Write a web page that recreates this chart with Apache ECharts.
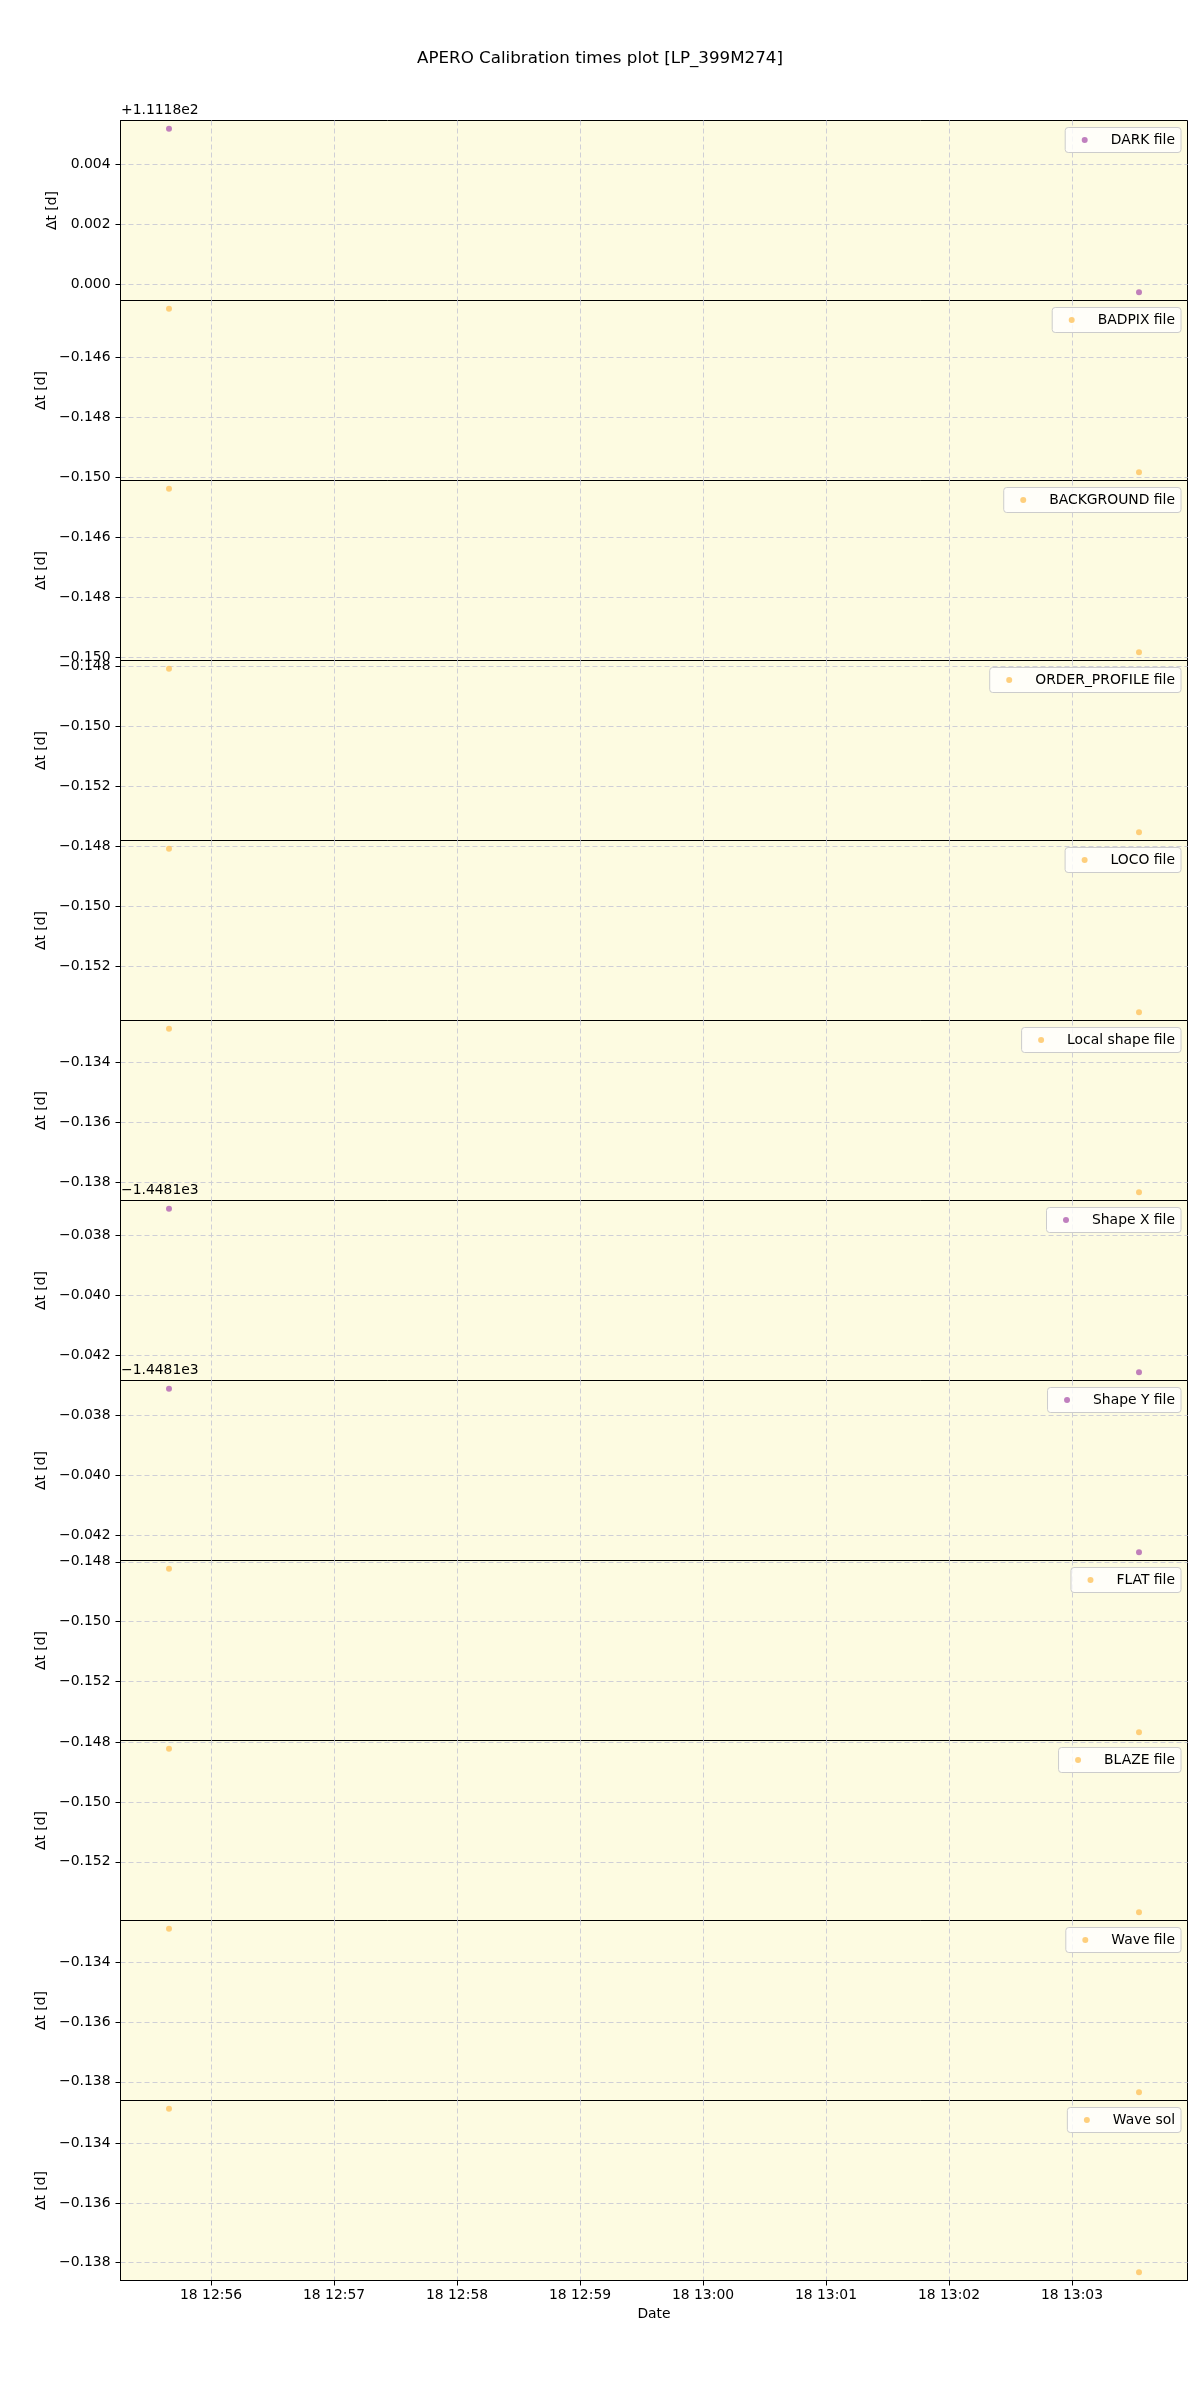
<!DOCTYPE html>
<html>
<head>
<meta charset="utf-8">
<script src="https://cdn.jsdelivr.net/npm/echarts@6/dist/echarts.min.js"></script>
<style>
html,body{margin:0;padding:0;background:#fff;}
#chart{width:1200px;height:2400px;}
</style>
</head>
<body>
<div id="chart"></div>
<script>
// ---- data ----
const titleText = 'APERO Calibration times plot [LP_399M274]';
const seriesNames = ['DARK file','BADPIX file','BACKGROUND file','ORDER_PROFILE file','LOCO file','Local shape file','Shape X file','Shape Y file','FLAT file','BLAZE file','Wave file','Wave sol'];
const seriesColors = ['#b060b0','#fec35e','#fec35e','#fec35e','#fec35e','#fec35e','#b060b0','#b060b0','#fec35e','#fec35e','#fec35e','#fec35e'];
const obsTimes = [Date.UTC(2023,7,18,12,55,39,500), Date.UTC(2023,7,18,13,3,32,700)];
const darkVals = [111.1852, 111.17973];
const badpixVals = [-0.14437, -0.14984];
const backgroundVals = [-0.14436, -0.14983];
const orderProfileVals = [-0.14807, -0.15354];
const locoVals = [-0.14807, -0.15354];
const localShapeVals = [-0.13287, -0.13834];
const shapeXVals = [-1448.13711, -1448.14258];
const shapeYVals = [-1448.1371, -1448.14257];
const flatVals = [-0.14823, -0.1537];
const blazeVals = [-0.14822, -0.15369];
const waveFileVals = [-0.13288, -0.13835];
const waveSolVals = [-0.13285, -0.13832];
const allVals = [darkVals, badpixVals, backgroundVals, orderProfileVals, locoVals, localShapeVals, shapeXVals, shapeYVals, flatVals, blazeVals, waveFileVals, waveSolVals];
const yOffsets = [111.18, 0, 0, 0, 0, 0, -1448.1, -1448.1, 0, 0, 0, 0];
const offsetLabels = ['+1.1118e2', '', '', '', '', '', '\u22121.4481e3', '\u22121.4481e3', '', '', '', ''];
const yTicks = [
  [0, 0.002, 0.004],
  [-0.150, -0.148, -0.146],
  [-0.150, -0.148, -0.146],
  [-0.152, -0.150, -0.148],
  [-0.152, -0.150, -0.148],
  [-0.138, -0.136, -0.134],
  [-0.042, -0.040, -0.038],
  [-0.042, -0.040, -0.038],
  [-0.152, -0.150, -0.148],
  [-0.152, -0.150, -0.148],
  [-0.138, -0.136, -0.134],
  [-0.138, -0.136, -0.134]
];
const xTicks = [
  Date.UTC(2023,7,18,12,56), Date.UTC(2023,7,18,12,57), Date.UTC(2023,7,18,12,58), Date.UTC(2023,7,18,12,59),
  Date.UTC(2023,7,18,13,0), Date.UTC(2023,7,18,13,1), Date.UTC(2023,7,18,13,2), Date.UTC(2023,7,18,13,3)
];
const yAxisName = '\u0394t [d]';
const xAxisName = 'Date';

// ---- layout ----
const FONT = 'DejaVu Sans';
const FS = 13.9;
const LEFT = 120.5, GW = 1067, TOP0 = 120.5, PH = 180;
const N = seriesNames.length;
const gridDash = [5, 3];
const gridColor = '#cfcfd6';

function pad2(n){ return (n < 10 ? '0' : '') + n; }
function fmtDate(v){
  const d = new Date(v);
  return d.getUTCDate() + ' ' + pad2(d.getUTCHours()) + ':' + pad2(d.getUTCMinutes());
}
function fmtNum(v){
  let s = v.toFixed(3);
  if (s === '-0.000') s = '0.000';
  return s.replace('-', '\u2212');
}
const tMin = Math.min(...obsTimes), tMax = Math.max(...obsTimes);
const tPad = (tMax - tMin) * 0.05;

const grids = [], xAxes = [], yAxes = [], series = [], legends = [], graphics = [];
for (let i = 0; i < N; i++) {
  const top = TOP0 + PH * i;
  const vals = allVals[i];
  const off = yOffsets[i];
  const lo = Math.min(...vals), hi = Math.max(...vals);
  const yp = (hi - lo) * 0.05;
  const isLast = i === N - 1;
  grids.push({
    left: LEFT, width: GW, top: top, height: PH,
    show: true, backgroundColor: '#fdfbe1', borderColor: '#000', borderWidth: 1
  });
  xAxes.push({
    type: 'value', gridIndex: i, min: tMin - tPad, max: tMax + tPad, scale: true,
    axisLine: { show: isLast, lineStyle: { color: '#000', width: 1 } },
    axisTick: { show: isLast, length: 5, lineStyle: { color: '#000' }, customValues: xTicks },
    axisLabel: { show: isLast, customValues: xTicks, formatter: (v) => fmtDate(v), fontFamily: FONT, fontSize: FS, color: '#000', margin: 8 },
    splitLine: { show: true, lineStyle: { color: gridColor, type: gridDash, width: 1 } },
    name: isLast ? xAxisName : '', nameLocation: 'middle', nameGap: 27,
    nameTextStyle: { fontFamily: FONT, fontSize: FS, color: '#000' }
  });
  const yt = yTicks[i].map(t => off + t);
  yAxes.push({
    type: 'value', gridIndex: i, min: lo - yp, max: hi + yp, scale: true,
    axisLine: { show: true, lineStyle: { color: '#000', width: 1 } },
    axisTick: { show: true, length: 5, lineStyle: { color: '#000' }, customValues: yt },
    axisLabel: { customValues: yt, formatter: (v) => fmtNum(v - off), fontFamily: FONT, fontSize: FS, color: '#000', margin: 10 },
    splitLine: { show: true, lineStyle: { color: gridColor, type: gridDash, width: 1 } },
    name: yAxisName, nameLocation: 'middle', nameGap: (i === 0 ? 49 : 62),
    nameTextStyle: { fontFamily: FONT, fontSize: FS, color: '#000' }
  });
  series.push({
    name: seriesNames[i], type: 'scatter', xAxisIndex: i, yAxisIndex: i,
    symbol: 'circle', symbolSize: 6,
    itemStyle: { color: seriesColors[i] },
    data: obsTimes.map((t, j) => [t, vals[j]]),
    z: 3
  });
  legends.push({
    data: [seriesNames[i]], right: 19, top: top + 7, orient: 'horizontal',
    icon: 'circle', itemWidth: 34, itemHeight: 6,
    selectedMode: false,
    backgroundColor: 'rgba(255,255,255,0.8)', borderColor: '#cccccc', borderWidth: 1, borderRadius: 3,
    padding: [5, 6, 5, 16.5],
    formatter: (name) => '{s|}' + name,
    textStyle: { fontFamily: FONT, fontSize: FS, color: '#000', lineHeight: 15, rich: { s: { width: 4 } } }
  });
  if (offsetLabels[i]) {
    graphics.push({
      type: 'text', left: 121, top: top - 17, z: 100,
      style: { text: offsetLabels[i], font: FS + 'px "' + FONT + '"', fill: '#000' }
    });
  }
}

const chart = echarts.init(document.getElementById('chart'), null, { renderer: 'canvas' });
chart.setOption({
  backgroundColor: '#ffffff',
  animation: false,
  title: { text: titleText, left: 'center', top: 45, textStyle: { fontFamily: FONT, fontSize: 16.7, fontWeight: 'normal', color: '#000' } },
  grid: grids, xAxis: xAxes, yAxis: yAxes, series: series, legend: legends, graphic: graphics
});
</script>
</body>
</html>
